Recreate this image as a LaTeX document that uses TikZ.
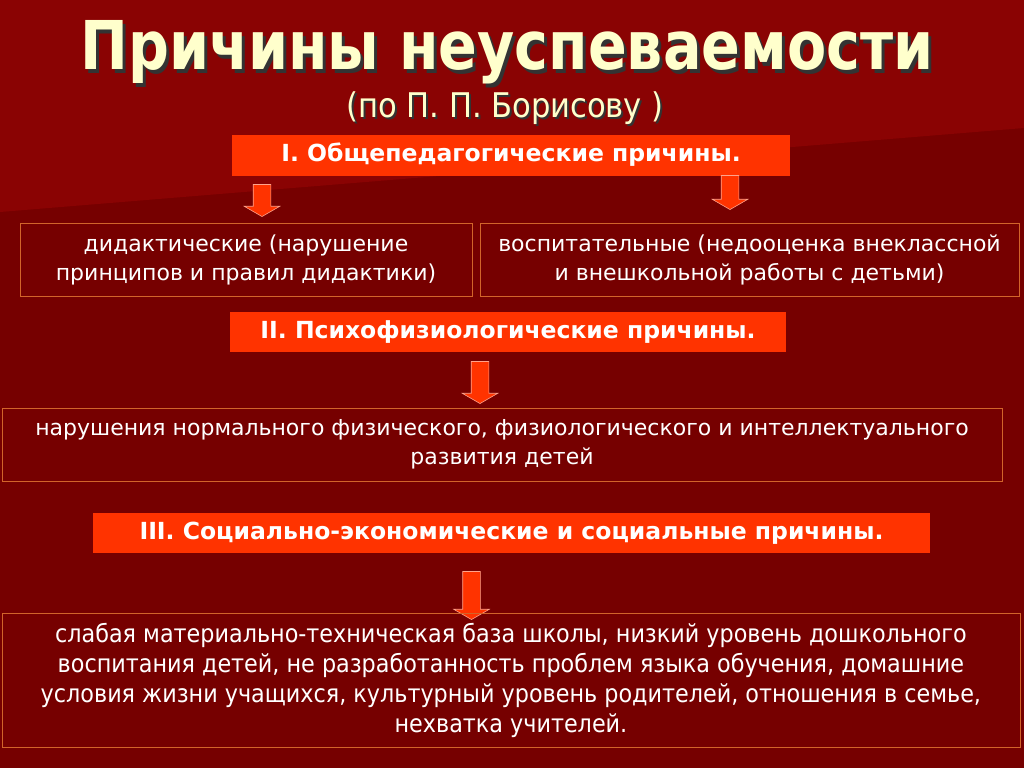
\documentclass[tikz,border=0pt]{standalone}
\usepackage{fontspec}
\setmainfont{DejaVu Sans}
\newfontfamily\condfont{DejaVu Sans Condensed}
\usetikzlibrary{positioning,shapes.arrows}

\definecolor{bgdark}{HTML}{760000}
\definecolor{bglight}{HTML}{8A0303}
\definecolor{headred}{HTML}{FF3300}
\definecolor{boxline}{HTML}{D2642A}
\definecolor{cream}{HTML}{FFFFCC}

\begin{document}
\begin{tikzpicture}[x=1pt,y=-1pt,text=white]
  \tikzstyle{title}=[text=cream,anchor=base,inner sep=0pt]
  \tikzstyle{shadow}=[text=black!80,anchor=base,inner sep=0pt]
  \tikzstyle{head}=[fill=headred,text=white,inner sep=0pt,font=\bfseries\fontsize{23.5}{27}\selectfont]
  \tikzstyle{cause}=[draw=boxline,line width=0.8pt,align=center,inner sep=0pt,font=\fontsize{22}{29}\selectfont]
  \tikzstyle{down}=[single arrow,rotate=-90,fill=headred,draw=headred!45!white,line width=0.6pt,
    inner sep=8.5pt,single arrow head extend=9pt,single arrow tip angle=120]

  % background
  \fill[bgdark] (0,0) rectangle (1024,768);
  \fill[bglight] (0,0) -- (1024,0) -- (1024,128) -- (0,212) -- cycle;
  \useasboundingbox (0,0) rectangle (1024,768);

  % title
  \node[shadow,font=\condfont\bfseries\fontsize{63.5}{66}\selectfont] (Ts) at (510,73) {\scalebox{1}[1.06]{Причины неуспеваемости}};
  \node[title,font=\condfont\bfseries\fontsize{63.5}{66}\selectfont] (T) at (507,70) {\scalebox{1}[1.06]{Причины неуспеваемости}};
  \node[shadow,font=\condfont\fontsize{34}{38}\selectfont] (Ss) at (507,119) {(по П. П. Борисову )};
  \node[title,font=\condfont\fontsize{34}{38}\selectfont] (S) at (505,117) {(по П. П. Борисову )};

  % I
  \node[head,minimum width=558pt,minimum height=41pt] (H1) at (511,155) {I. Общепедагогические причины.};
  \node[down,minimum height=32pt] (a1) at (262,198) {};
  \node[down,minimum height=34pt] (a2) at (730,190) {};
  \node[cause,minimum width=452pt,minimum height=73pt] (A) at (246,259.5)
    {дидактические (нарушение\\принципов и правил дидактики)};
  \node[cause,minimum width=539pt,minimum height=73pt] (B) at (749.5,259.5)
    {воспитательные (недооценка внеклассной\\и внешкольной работы с детьми)};

  % II
  \node[head,minimum width=556pt,minimum height=40pt] (H2) at (508,332) {II. Психофизиологические причины.};
  \node[down,minimum height=42pt] (a3) at (480,380) {};
  \node[cause,minimum width=1000pt,minimum height=73pt] (C) at (502,444.5)
    {нарушения нормального физического, физиологического и интеллектуального\\развития детей};

  % III
  \node[head,minimum width=837pt,minimum height=40pt] (H3) at (511.5,533) {III. Социально-экономические и социальные причины.};
  \node[down,minimum height=48pt] (a4) at (471.5,593) {};
  \node[cause,minimum width=1018pt,minimum height=134pt,font=\condfont\fontsize{24.8}{30}\selectfont] (D) at (511,680)
    {слабая материально-техническая база школы, низкий уровень дошкольного\\
     воспитания детей, не разработанность проблем языка обучения, домашние\\
     условия жизни учащихся, культурный уровень родителей, отношения в семье,\\
     нехватка учителей.};
\end{tikzpicture}
\end{document}
